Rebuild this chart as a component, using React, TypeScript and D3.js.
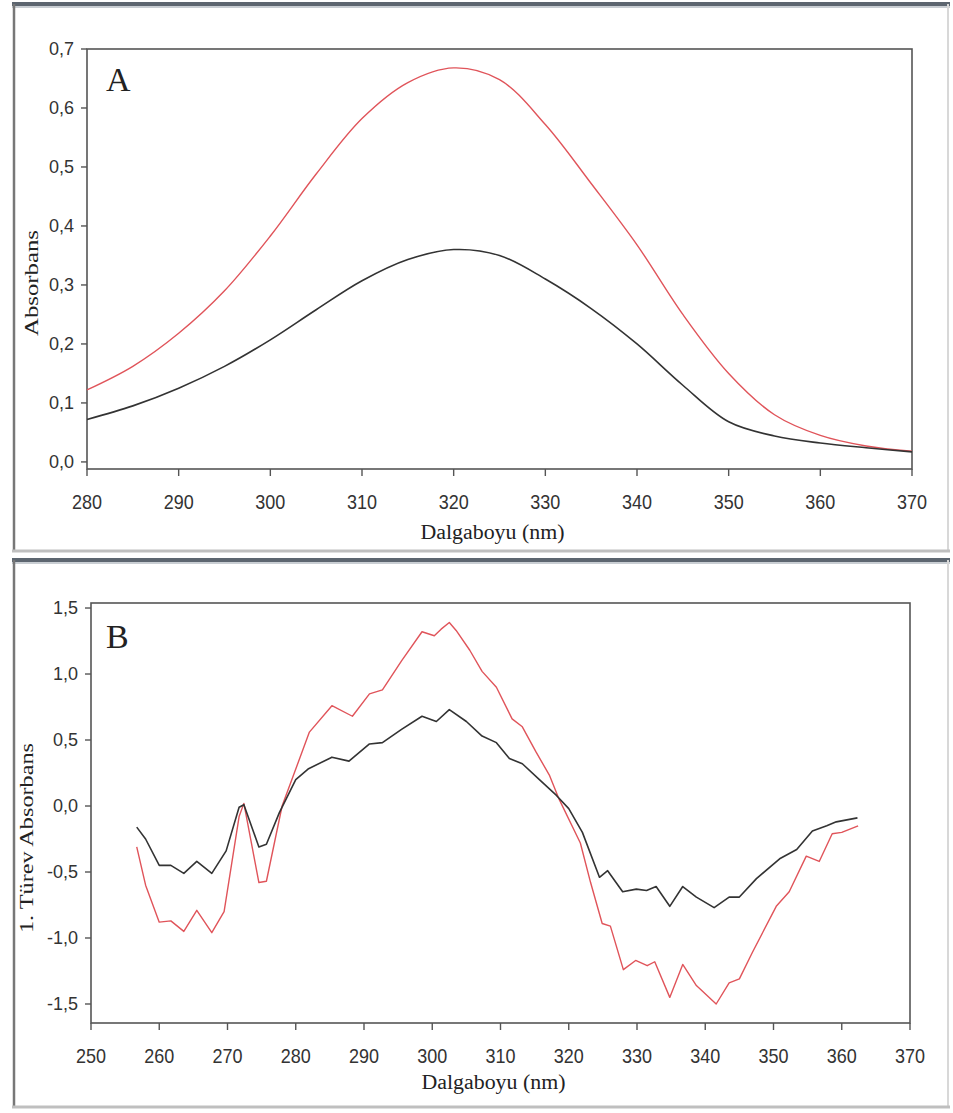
import React from "react";
import * as d3 from "d3";

// Panel A: absorption spectra
const wavelengthsA = [280, 285, 290, 295, 300, 305, 310, 315, 320, 325, 330, 335, 340, 345, 350, 355, 360, 365, 370];
const redA = [0.122, 0.162, 0.218, 0.29, 0.383, 0.488, 0.582, 0.643, 0.668, 0.648, 0.572, 0.472, 0.368, 0.25, 0.15, 0.08, 0.045, 0.027, 0.018];
const blackA = [0.072, 0.095, 0.125, 0.162, 0.207, 0.258, 0.307, 0.343, 0.36, 0.35, 0.31, 0.26, 0.2, 0.13, 0.068, 0.044, 0.032, 0.024, 0.017];

// Panel B: first derivative spectra
const wlBlackB = [256.7, 258, 260, 261.7, 263.6, 265.5, 267.7, 269.8, 271.7, 272.4, 274.6, 275.7, 277.6, 280, 281.8, 285.3, 287.8, 290.8, 292.7, 295.5, 298.5, 300.6, 302.5, 305, 307.3, 309.4, 311.3, 313.2, 315.7, 318.2, 320, 322, 324.5, 325.7, 327.9, 329.9, 331.4, 332.8, 334.8, 336.7, 338.7, 341.3, 343.5, 345, 347.5, 350.9, 353.4, 355.7, 357.8, 359.2, 362.3];
const blackB = [-0.16, -0.25, -0.45, -0.45, -0.51, -0.42, -0.51, -0.34, -0.01, 0.01, -0.31, -0.29, -0.05, 0.2, 0.28, 0.37, 0.34, 0.47, 0.48, 0.58, 0.68, 0.64, 0.73, 0.64, 0.53, 0.48, 0.36, 0.32, 0.2, 0.08, -0.02, -0.2, -0.54, -0.49, -0.65, -0.63, -0.64, -0.61, -0.76, -0.61, -0.69, -0.77, -0.69, -0.69, -0.55, -0.4, -0.33, -0.19, -0.15, -0.12, -0.09];
const wlRedB = [256.7, 258, 260, 261.7, 263.6, 265.5, 267.7, 269.5, 271.7, 272.4, 274.6, 275.7, 278, 282, 285.3, 288.3, 290.8, 292.7, 295.5, 298.5, 300.3, 301.3, 302.5, 303.5, 305.5, 307.3, 309.4, 311.7, 313.2, 315.2, 317.2, 318.6, 321.7, 323.2, 324.9, 326.1, 328, 329.8, 331.5, 332.6, 334.8, 336.7, 338.7, 341.6, 343.5, 345, 346.9, 350.4, 352.3, 354.8, 356.7, 358.6, 360, 362.4];
const redB = [-0.31, -0.6, -0.88, -0.87, -0.95, -0.79, -0.96, -0.8, -0.08, 0.02, -0.58, -0.57, 0.0, 0.56, 0.76, 0.68, 0.85, 0.88, 1.1, 1.32, 1.29, 1.34, 1.39, 1.33, 1.18, 1.02, 0.9, 0.66, 0.6, 0.41, 0.23, 0.05, -0.28, -0.58, -0.89, -0.91, -1.24, -1.17, -1.21, -1.18, -1.45, -1.2, -1.36, -1.5, -1.34, -1.31, -1.11, -0.76, -0.65, -0.38, -0.42, -0.21, -0.2, -0.15];

const ticksXA = [280, 290, 300, 310, 320, 330, 340, 350, 360, 370];
const ticksYA = [0, 0.1, 0.2, 0.3, 0.4, 0.5, 0.6, 0.7];
const ticksXB = [250, 260, 270, 280, 290, 300, 310, 320, 330, 340, 350, 360, 370];
const ticksYB = [-1.5, -1.0, -0.5, 0, 0.5, 1.0, 1.5];

const RED = "#e0545a";
const BLACK = "#333";
const AXIS = "#555";
const LABEL = "#333";

const fmt = (v: number) => v.toFixed(1).replace(".", ",").replace("-0,0", "0,0");

type PanelProps = {
  x: d3.ScaleLinear<number, number>;
  y: d3.ScaleLinear<number, number>;
  ticksX: number[];
  ticksY: number[];
  series: { xs: number[]; ys: number[]; color: string; width: number; curve: d3.CurveFactory }[];
  letter: string;
  letterY: number;
  yTitle: string;
  yTitleCenter: number;
  yTitleLen: number;
  yTitleX: number;
  xTitleY: number;
  frameTop: number;
  frameBottom: number;
};

function Panel(p: PanelProps) {
  const [x0, x1] = p.x.range();
  const [yb, yt] = p.y.range();
  return (
    <g>
      {/* outer frame */}
      <line x1={12} x2={950} y1={p.frameTop} y2={p.frameTop} stroke="#5d6670" strokeWidth={4} />
      <line x1={12} x2={950} y1={p.frameTop + 3} y2={p.frameTop + 3} stroke="#c9ced3" strokeWidth={2} />
      <line x1={14} x2={14} y1={p.frameTop} y2={p.frameBottom} stroke="#777" strokeWidth={2.5} />
      <line x1={948} x2={948} y1={p.frameTop} y2={p.frameBottom} stroke="#d8d8d8" strokeWidth={2} />
      <line x1={12} x2={950} y1={p.frameBottom} y2={p.frameBottom} stroke="#bfbfbf" strokeWidth={3} />
      {/* plot box */}
      <rect x={x0} y={yt} width={x1 - x0} height={yb - yt} fill="white" stroke={AXIS} strokeWidth={1.6} />
      {p.ticksY.map((t) => (
        <g key={"y" + t}>
          <line x1={x0 - 6} x2={x0} y1={p.y(t)} y2={p.y(t)} stroke={AXIS} strokeWidth={1.4} />
          <text x={x0 - 13} y={p.y(t)} dy="0.36em" textAnchor="end" fontFamily="'Liberation Sans', Arial, sans-serif" fontSize={18} fill={LABEL}>
            {fmt(t)}
          </text>
        </g>
      ))}
      {p.ticksX.map((t) => (
        <g key={"x" + t}>
          <line x1={p.x(t)} x2={p.x(t)} y1={yb} y2={yb + 7} stroke={AXIS} strokeWidth={1.4} />
          <text x={p.x(t)} y={yb + 40} textAnchor="middle" fontFamily="'Liberation Sans', Arial, sans-serif" fontSize={21} fill={LABEL} textLength={30} lengthAdjust="spacingAndGlyphs">
            {t}
          </text>
        </g>
      ))}
      {p.series.map((s, i) => {
        const pts: [number, number][] = s.xs.map((v, j) => [v, s.ys[j]]);
        const line = d3.line<[number, number]>().x((d) => p.x(d[0])).y((d) => p.y(d[1])).curve(s.curve);
        return <path key={i} d={line(pts) || ""} fill="none" stroke={s.color} strokeWidth={s.width} strokeLinejoin="round" />;
      })}
      <text x={106} y={p.letterY} fontFamily="'Liberation Serif', 'Times New Roman', serif" fontSize={34} fill="#222">
        {p.letter}
      </text>
      <text x={(x0 + x1) / 2 - 7} y={p.xTitleY} textAnchor="middle" fontFamily="'Liberation Serif', 'Times New Roman', serif" fontSize={20} fill="#222" textLength={144} lengthAdjust="spacingAndGlyphs">
        Dalgaboyu (nm)
      </text>
      <text transform={`translate(${p.yTitleX},${p.yTitleCenter}) rotate(-90)`} textAnchor="middle" fontFamily="'Liberation Serif', 'Times New Roman', serif" fontSize={19} fill="#222" textLength={p.yTitleLen} lengthAdjust="spacingAndGlyphs">
        {p.yTitle}
      </text>
    </g>
  );
}

export default function App() {
  const xA = d3.scaleLinear().domain([280, 370]).range([87, 912]);
  const yA = d3.scaleLinear().domain([-0.012, 0.7]).range([469, 49]);
  const xB = d3.scaleLinear().domain([250, 370]).range([91, 910]);
  const yB = d3.scaleLinear().domain([-1.644, 1.538]).range([1023, 603]);
  const smooth = d3.curveCatmullRom.alpha(0.5);
  return (
    <svg width={953} height={1113} style={{ position: "absolute", left: 0, top: 0, background: "white" }}>
      <rect width={953} height={1113} fill="white" />
      <Panel
        x={xA}
        y={yA}
        ticksX={ticksXA}
        ticksY={ticksYA}
        series={[
          { xs: wavelengthsA, ys: redA, color: RED, width: 1.4, curve: smooth },
          { xs: wavelengthsA, ys: blackA, color: BLACK, width: 1.6, curve: smooth },
        ]}
        letter="A"
        letterY={91}
        yTitle="Absorbans"
        yTitleCenter={283}
        yTitleLen={106}
        yTitleX={38}
        xTitleY={539}
        frameTop={4}
        frameBottom={551}
      />
      <Panel
        x={xB}
        y={yB}
        ticksX={ticksXB}
        ticksY={ticksYB}
        series={[
          { xs: wlRedB, ys: redB, color: RED, width: 1.4, curve: d3.curveLinear },
          { xs: wlBlackB, ys: blackB, color: BLACK, width: 1.6, curve: d3.curveLinear },
        ]}
        letter="B"
        letterY={648}
        yTitle="1. Türev Absorbans"
        yTitleCenter={838}
        yTitleLen={190}
        yTitleX={33}
        xTitleY={1089}
        frameTop={560}
        frameBottom={1107}
      />
    </svg>
  );
}
